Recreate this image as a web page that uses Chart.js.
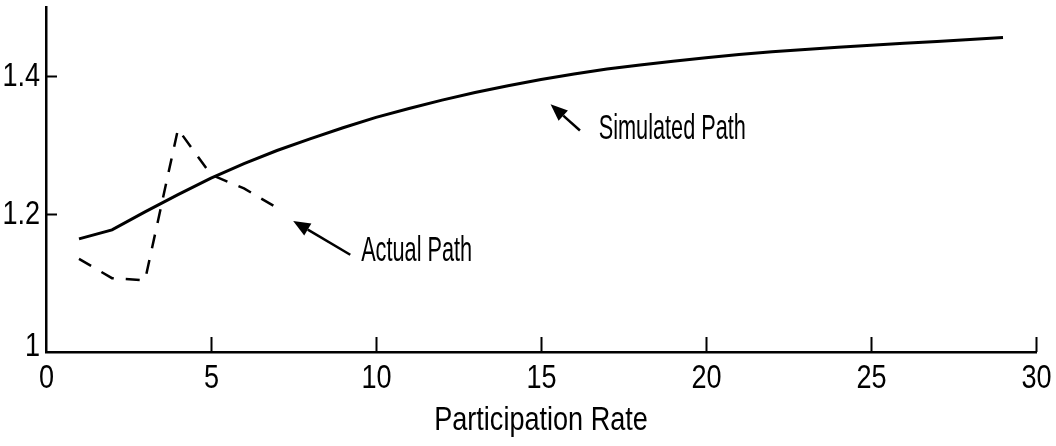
<!DOCTYPE html>
<html>
<head>
<meta charset="utf-8">
<script src="https://cdn.jsdelivr.net/npm/chart.js@4.4.1/dist/chart.umd.min.js"></script>
<style>
  html, body { margin: 0; padding: 0; background: #fff; }
  #wrap { width: 1056px; height: 446px; }
</style>
</head>
<body>
<div id="wrap"><canvas id="chart" width="1056" height="446"></canvas></div>
<script>
// Data
const simX = [1, 2, 3, 4, 5, 6, 7, 8, 9, 10, 11, 12, 13, 14, 15, 16, 17, 18, 19, 20, 21, 22, 23, 24, 25, 26, 27, 28, 29];
const simulatedPath = [1.164, 1.177, 1.203, 1.228, 1.252, 1.273, 1.292, 1.309, 1.325, 1.340, 1.353, 1.365, 1.376, 1.386, 1.395, 1.403, 1.410, 1.416, 1.4215, 1.4265, 1.431, 1.435, 1.4385, 1.4415, 1.4445, 1.4473, 1.4501, 1.4529, 1.4557];
const actX = [1, 2, 3, 4, 5, 6, 7];
const actualPath = [1.135, 1.107, 1.104, 1.323, 1.257, 1.237, 1.209];

const xTicks = [0, 5, 10, 15, 20, 25, 30];
const xTickLabels = ['0', '5', '10', '15', '20', '25', '30'];
const yTicks = [1, 1.2, 1.4];
const yTickLabels = ['1', '1.2', '1.4'];
const xTitle = 'Participation Rate';

// Annotations in data units: [label, textX, textY, tailX, tailY, tipX, tipY]
const notes = [
    ['Actual Path', 9.55, 1.146, 9.22, 1.141, 7.49, 1.190],
    ['Simulated Path', 16.75, 1.322, 16.18, 1.321, 15.29, 1.359]
];

const FONT = "'Liberation Sans', Arial, sans-serif";

// condensed text, the scan squeezes everything horizontally
function narrowText(ctx, str, x, y, size, sx, align, base) {
    ctx.save();
    ctx.translate(x, y);
    ctx.scale(sx, 1);
    ctx.font = size + 'px ' + FONT;
    ctx.textAlign = align;
    ctx.textBaseline = base;
    ctx.fillStyle = '#000';
    ctx.fillText(str, 0, 0);
    ctx.restore();
}

// Inward ticks, tick labels and arrow annotations
const decorPlugin = {
    id: 'decor',
    afterDraw(chart) {
        const ctx = chart.ctx;
        const xs = chart.scales.x;
        const ys = chart.scales.y;
        const x0 = xs.getPixelForValue(0);
        const y0 = ys.getPixelForValue(1);
        ctx.save();
        ctx.strokeStyle = '#000';
        ctx.lineWidth = 2;
        xs.ticks.forEach((t, i) => {
            const px = Math.round(xs.getPixelForValue(t.value)) + 0.5;
            if (t.value !== 0) {
                ctx.beginPath();
                ctx.moveTo(px, y0);
                ctx.lineTo(px, y0 - 15);
                ctx.stroke();
            }
            narrowText(ctx, xTickLabels[i], px, y0 + 10, 33, 0.82, 'center', 'top');
        });
        ys.ticks.forEach((t, i) => {
            const py = Math.round(ys.getPixelForValue(t.value)) + 0.5;
            if (t.value !== 1) {
                ctx.beginPath();
                ctx.moveTo(x0, py);
                ctx.lineTo(x0 + 11, py);
                ctx.stroke();
            }
            narrowText(ctx, yTickLabels[i], x0 - 6, py - (t.value === 1 ? 6 : 0), 33, 0.82, 'right', 'middle');
        });
        narrowText(ctx, xTitle, (xs.left + xs.right) / 2, y0 + 78, 33, 0.82, 'center', 'alphabetic');

        notes.forEach(n => {
            const tx = xs.getPixelForValue(n[1]), ty = ys.getPixelForValue(n[2]);
            const ax = xs.getPixelForValue(n[3]), ay = ys.getPixelForValue(n[4]);
            const bx = xs.getPixelForValue(n[5]), by = ys.getPixelForValue(n[6]);
            const ang = Math.atan2(by - ay, bx - ax);
            const headLen = 17, headW = 7;
            const hx = bx - headLen * Math.cos(ang), hy = by - headLen * Math.sin(ang);
            ctx.lineWidth = 2.5;
            ctx.beginPath();
            ctx.moveTo(ax, ay);
            ctx.lineTo(hx, hy);
            ctx.stroke();
            ctx.fillStyle = '#000';
            ctx.beginPath();
            ctx.moveTo(bx, by);
            ctx.lineTo(hx + headW * Math.sin(ang), hy - headW * Math.cos(ang));
            ctx.lineTo(hx - headW * Math.sin(ang), hy + headW * Math.cos(ang));
            ctx.closePath();
            ctx.fill();

            narrowText(ctx, n[0], tx, ty, 35, 0.62, 'left', 'middle');
        });
        ctx.restore();
    }
};

new Chart(document.getElementById('chart'), {
    type: 'line',
    data: {
        datasets: [
            {
                label: 'Simulated Path',
                data: simX.map((x, i) => ({ x: x, y: simulatedPath[i] })),
                borderColor: '#000',
                borderWidth: 3,
                pointRadius: 0,
                tension: 0,
                fill: false
            },
            {
                label: 'Actual Path',
                data: actX.map((x, i) => ({ x: x, y: actualPath[i] })),
                borderColor: '#000',
                borderWidth: 2.5,
                borderDash: [14, 12],
                pointRadius: 0,
                tension: 0,
                fill: false
            }
        ]
    },
    options: {
        responsive: false,
        animation: false,
        layout: { padding: { top: 7, right: 20, left: 0, bottom: 0 } },
        plugins: {
            legend: { display: false },
            tooltip: { enabled: false }
        },
        scales: {
            x: {
                type: 'linear',
                min: 0,
                max: 30,
                afterBuildTicks: s => { s.ticks = xTicks.map(v => ({ value: v })); },
                afterFit: s => { s.height = 94; },
                grid: { display: false },
                border: { display: true, color: '#000', width: 2.5 },
                ticks: { display: false }
            },
            y: {
                type: 'linear',
                min: 1,
                max: 1.5,
                afterBuildTicks: s => { s.ticks = yTicks.map(v => ({ value: v })); },
                afterFit: s => { s.width = 46; },
                grid: { display: false },
                border: { display: true, color: '#000', width: 2.5 },
                ticks: { display: false }
            }
        }
    },
    plugins: [decorPlugin]
});
</script>
</body>
</html>
